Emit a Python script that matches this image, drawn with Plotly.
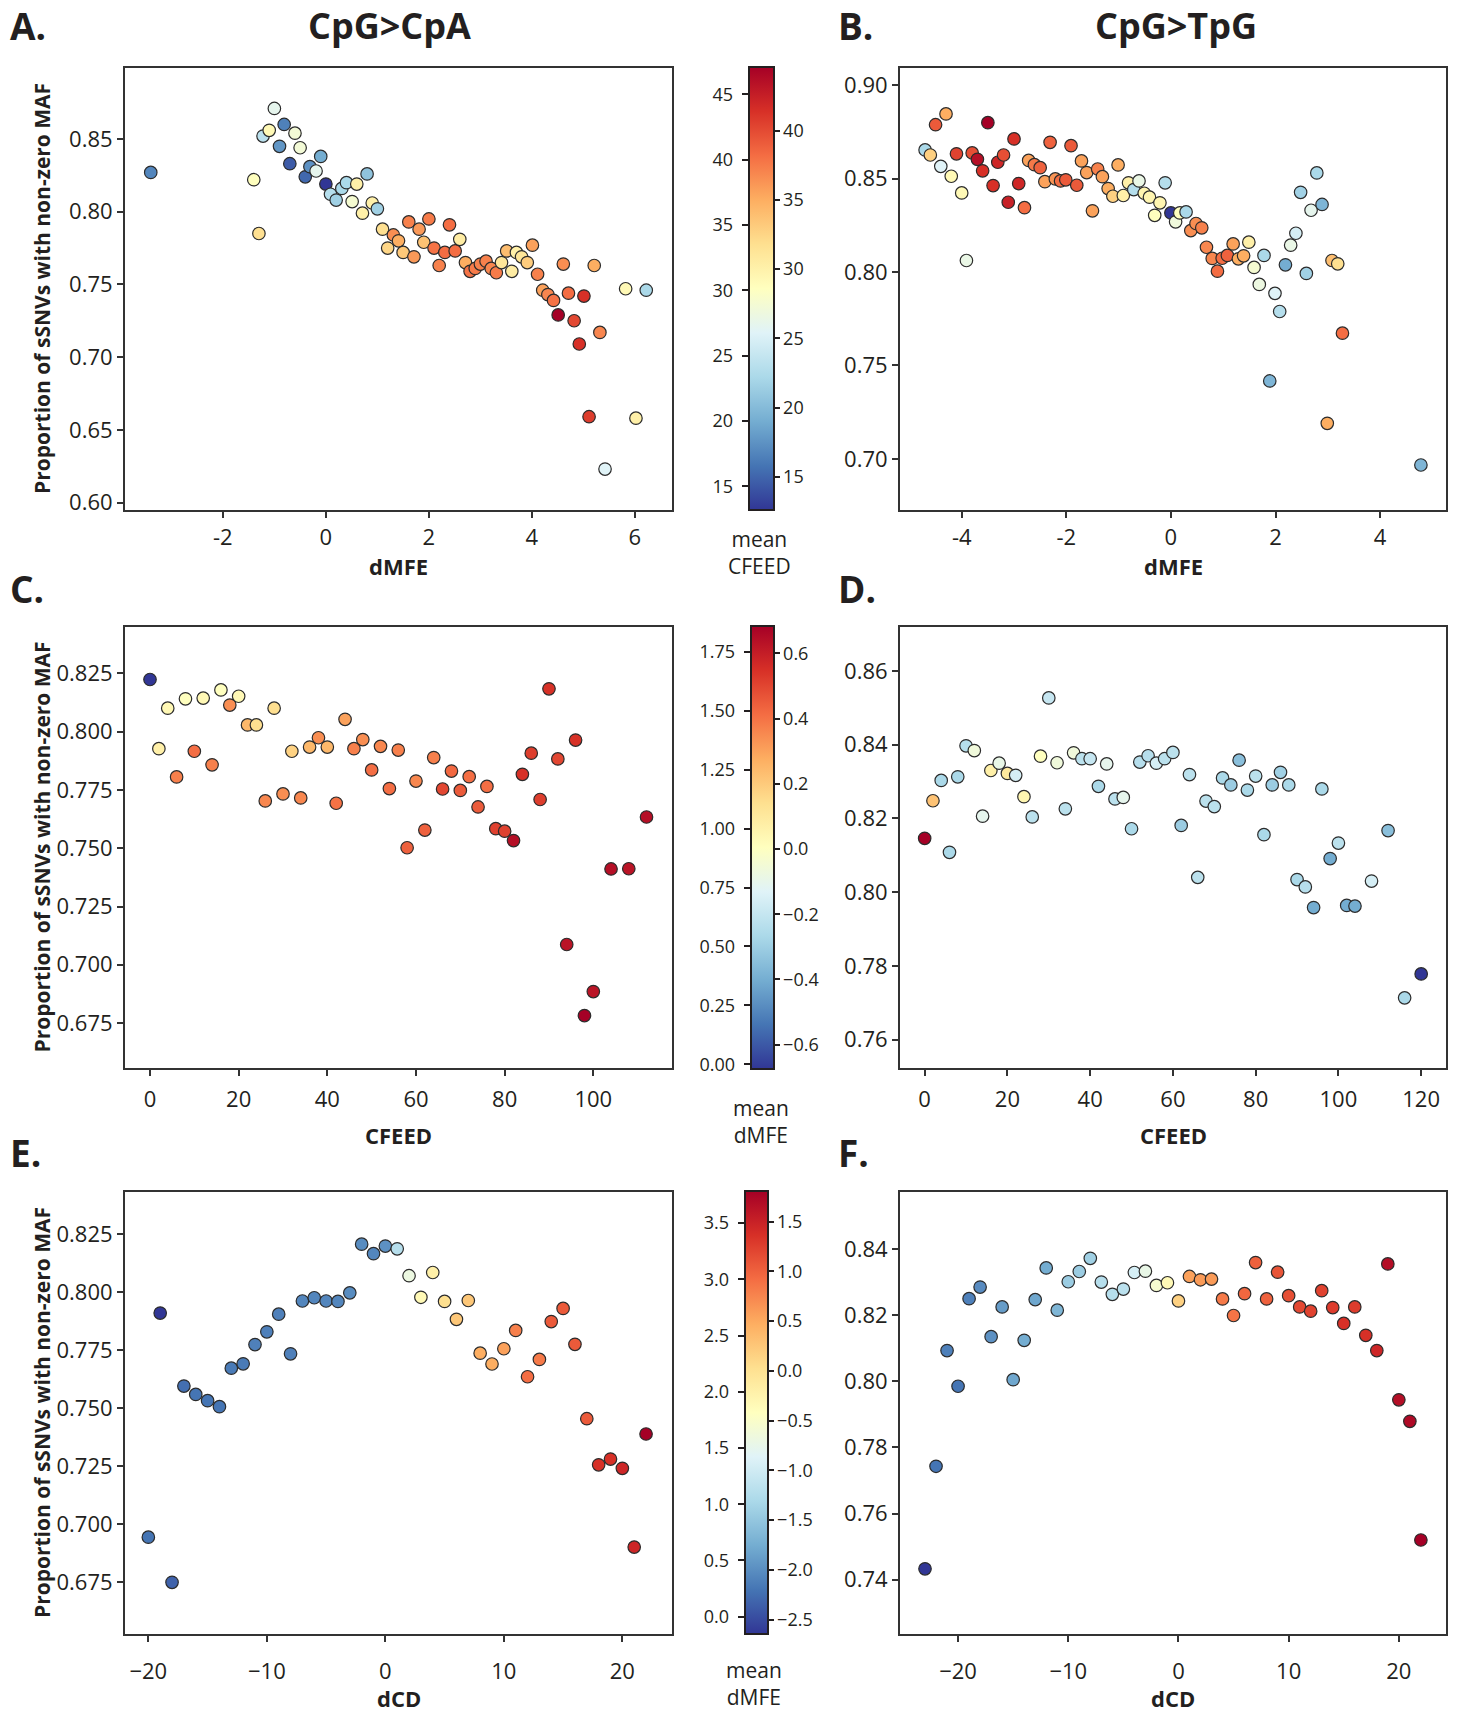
import plotly.graph_objects as go

# ---------------- data ----------------
# A. CpG>CpA : dMFE vs proportion, coloured by mean CFEED
A_dmfe = [-3.40, -1.40, -1.30, -1.22, -1.10, -1.00, -0.90, -0.81, -0.70, -0.60, -0.50, -0.40, -0.31, -0.19, -0.10,
	0.00, 0.09, 0.20, 0.31, 0.40, 0.51, 0.60, 0.71, 0.80, 0.90, 1.00, 1.10, 1.20, 1.31, 1.41, 1.50, 1.61, 1.71, 1.81,
	1.90, 2.00, 2.10, 2.20, 2.31, 2.40, 2.51, 2.60, 2.71, 2.80, 2.90, 3.00, 3.11, 3.21, 3.31, 3.41, 3.51, 3.61, 3.70,
	3.80, 3.91, 4.01, 4.11, 4.21, 4.31, 4.42, 4.51, 4.61, 4.71, 4.82, 4.92, 5.01, 5.11, 5.21, 5.32, 5.42, 5.82, 6.02, 6.22]
A_prop = [0.827, 0.822, 0.785, 0.852, 0.856, 0.871, 0.845, 0.860, 0.833, 0.854, 0.844, 0.824, 0.831, 0.828, 0.838,
	0.819, 0.812, 0.808, 0.816, 0.820, 0.807, 0.819, 0.799, 0.826, 0.806, 0.802, 0.788, 0.775, 0.784, 0.780, 0.772, 0.793, 0.769, 0.788,
	0.779, 0.795, 0.775, 0.763, 0.772, 0.791, 0.773, 0.781, 0.765, 0.759, 0.761, 0.764, 0.766, 0.761, 0.758, 0.765, 0.773, 0.759, 0.772,
	0.769, 0.765, 0.777, 0.757, 0.746, 0.743, 0.739, 0.729, 0.764, 0.744, 0.725, 0.709, 0.742, 0.659, 0.763, 0.717, 0.623, 0.747, 0.658, 0.746]
A_cfeed = [17.6, 30.2, 33.5, 24.4, 30.8, 27.4, 18.6, 17.3, 15.2, 28.8, 28.8, 15.9, 18.3, 27.4, 20.0,
	13.2, 24.0, 22.7, 23.4, 23.4, 29.1, 31.8, 31.8, 21.7, 31.8, 22.7, 33.5, 34.2, 38.6, 36.9, 35.2, 39.3, 38.0, 38.0,
	35.6, 39.6, 40.0, 39.3, 40.3, 40.3, 40.3, 32.2, 36.9, 40.0, 39.6, 39.3, 39.3, 39.0, 39.6, 32.9, 35.9, 32.2, 31.8,
	32.9, 34.9, 37.6, 39.3, 37.6, 39.0, 40.0, 47.1, 38.6, 40.3, 42.4, 43.7, 43.7, 43.0, 36.9, 39.0, 26.8, 30.8, 31.8, 23.4]

# B. CpG>TpG : dMFE vs proportion, coloured by mean CFEED
B_dmfe = [-4.70, -4.60, -4.50, -4.40, -4.30, -4.20, -4.10, -4.00, -3.91, -3.80, -3.70, -3.60, -3.50, -3.40, -3.31, -3.20,
	-3.11, -3.00, -2.91, -2.80, -2.72, -2.61, -2.50, -2.41, -2.31, -2.21, -2.11, -2.01, -1.91, -1.80, -1.71, -1.61, -1.50,
	-1.40, -1.31, -1.20, -1.11, -1.01, -0.91, -0.81, -0.71, -0.61, -0.51, -0.41, -0.31, -0.21, -0.11, 0.00, 0.09, 0.17,
	0.29, 0.38, 0.48, 0.59, 0.68, 0.79, 0.89, 0.98, 1.08, 1.19, 1.29, 1.39, 1.49, 1.59, 1.69, 1.78, 1.89, 1.99, 2.08,
	2.19, 2.29, 2.39, 2.48, 2.59, 2.68, 2.79, 2.89, 2.99, 3.08, 3.19, 3.28, 4.78]
B_prop = [0.8654, 0.8627, 0.8789, 0.8566, 0.8847, 0.8513, 0.8633, 0.8424, 0.8062, 0.8638, 0.8604, 0.8542, 0.8800, 0.8463, 0.8588, 0.8627,
	0.8374, 0.8713, 0.8474, 0.8345, 0.8598, 0.8575, 0.8559, 0.8484, 0.8695, 0.8499, 0.8488, 0.8494, 0.8677, 0.8465, 0.8595, 0.8533, 0.8328,
	0.8552, 0.8511, 0.8447, 0.8406, 0.8574, 0.8410, 0.8478, 0.8442, 0.8488, 0.8422, 0.8401, 0.8304, 0.8371, 0.8478, 0.8317, 0.8269, 0.8317,
	0.8322, 0.8222, 0.8260, 0.8237, 0.8133, 0.8073, 0.8005, 0.8074, 0.8089, 0.8151, 0.8071, 0.8087, 0.8160, 0.8025, 0.7934, 0.8089, 0.7417, 0.7886, 0.7789,
	0.8039, 0.8144, 0.8208, 0.8427, 0.7993, 0.8331, 0.8531, 0.8362, 0.7190, 0.8062, 0.8044, 0.7673, 0.6967]
B_cfeed = [22.2, 32.8, 39.2, 25.4, 35.0, 29.2, 40.4, 29.2, 26.4, 39.8, 43.6, 41.4, 44.6, 41.4, 42.0, 39.8,
	42.4, 41.4, 42.0, 38.2, 35.6, 37.6, 38.8, 35.6, 38.8, 36.3, 38.2, 39.2, 39.2, 39.2, 35.6, 35.6, 35.6,
	37.2, 35.6, 35.0, 32.8, 35.0, 30.2, 30.2, 22.8, 26.4, 29.6, 29.6, 28.6, 29.6, 22.8, 12.6, 27.0, 28.6,
	22.2, 36.6, 36.6, 37.2, 36.9, 36.9, 38.2, 38.2, 38.8, 35.6, 35.0, 35.0, 30.2, 27.6, 26.7, 22.2, 19.6, 25.4, 22.8,
	19.0, 26.4, 24.8, 21.6, 21.6, 26.0, 22.2, 19.6, 35.0, 34.0, 31.8, 38.2, 19.6]

# C. CpG>CpA : CFEED vs proportion, coloured by mean dMFE
C_cfeed = [0, 2, 4, 6, 8, 10, 12, 14, 16, 18, 20, 22, 24, 26, 28, 30, 32, 34, 36, 38, 40, 42, 44, 46, 48, 50,
	52, 54, 56, 58, 60, 62, 64, 66, 68, 70, 72, 74, 76, 78, 80, 82, 84, 86, 88, 90, 92, 94, 96, 98, 100, 104, 108, 112]
C_prop = [0.8224, 0.7927, 0.8101, 0.7806, 0.8141, 0.7916, 0.8144, 0.7858, 0.8179, 0.8114, 0.8152, 0.8029, 0.8029, 0.7703,
	0.8101, 0.7733, 0.7916, 0.7716, 0.7934, 0.7974, 0.7934, 0.7693, 0.8053, 0.7927, 0.7966, 0.7836, 0.7937, 0.7756,
	0.7921, 0.7502, 0.7788, 0.7578, 0.7889, 0.7754, 0.7831, 0.7748, 0.7807, 0.7677, 0.7765, 0.7584, 0.7573, 0.7533,
	0.7817, 0.7908, 0.7709, 0.8184, 0.7883, 0.7087, 0.7964, 0.6782, 0.6885, 0.7411, 0.7412, 0.7634]
C_dmfe = [-0.02, 1.01, 0.96, 1.43, 0.92, 1.48, 0.96, 1.43, 0.92, 1.39, 0.96, 1.26, 1.11, 1.41, 1.11, 1.39, 1.16, 1.41,
	1.26, 1.39, 1.26, 1.47, 1.33, 1.43, 1.39, 1.48, 1.41, 1.48, 1.43, 1.52, 1.41, 1.52, 1.43, 1.60, 1.50, 1.54, 1.48,
	1.54, 1.48, 1.62, 1.62, 1.80, 1.67, 1.63, 1.63, 1.67, 1.60, 1.78, 1.67, 1.86, 1.78, 1.80, 1.78, 1.80]

# D. CpG>TpG : CFEED vs proportion, coloured by mean dMFE
D_cfeed = [0, 2, 4, 6, 8, 10, 12, 14, 16, 18, 20, 22, 24, 26, 28, 30, 32, 34, 36, 38, 40, 42, 44, 46, 48, 50, 52, 54,
	56, 58, 60, 62, 64, 66, 68, 70, 72, 74, 76, 78, 80, 82, 84, 86, 88, 90, 92, 94, 96, 98, 100, 102, 104, 108, 112, 116, 120]
D_prop = [0.8146, 0.8248, 0.8303, 0.8108, 0.8313, 0.8397, 0.8384, 0.8206, 0.8330, 0.8350, 0.8322, 0.8317, 0.8259, 0.8204,
	0.8369, 0.8527, 0.8351, 0.8226, 0.8378, 0.8362, 0.8362, 0.8287, 0.8348, 0.8253, 0.8257, 0.8172, 0.8353, 0.8370,
	0.8350, 0.8362, 0.8379, 0.8181, 0.8319, 0.8040, 0.8247, 0.8232, 0.8310, 0.8291, 0.8358, 0.8277, 0.8315, 0.8156,
	0.8291, 0.8325, 0.8291, 0.8034, 0.8014, 0.7958, 0.8280, 0.8091, 0.8133, 0.7964, 0.7962, 0.8030, 0.8167, 0.7713, 0.7778]
D_dmfe = [0.684, 0.222, -0.267, -0.267, -0.267, -0.240, -0.063, -0.104, 0.072, -0.091, 0.100, -0.159, 0.045, -0.227,
	0.005, -0.199, -0.063, -0.227, -0.063, -0.227, -0.199, -0.267, -0.104, -0.227, -0.104, -0.267, -0.240, -0.240,
	-0.159, -0.227, -0.227, -0.308, -0.227, -0.227, -0.227, -0.227, -0.267, -0.308, -0.349, -0.267, -0.227, -0.267,
	-0.308, -0.294, -0.267, -0.267, -0.240, -0.403, -0.267, -0.403, -0.227, -0.403, -0.403, -0.159, -0.349, -0.267, -0.675]

# E. CpG>CpA : dCD vs proportion, coloured by mean dMFE
E_dcd = [-20, -19, -18, -17, -16, -15, -14, -13, -12, -11, -10, -9, -8, -7, -6, -5, -4, -3, -2, -1, 0,
	1, 2, 3, 4, 5, 6, 7, 8, 9, 10, 11, 12, 13, 14, 15, 16, 17, 18, 19, 20, 21, 22]
E_prop = [0.6943, 0.7910, 0.6748, 0.7595, 0.7559, 0.7532, 0.7506, 0.7672, 0.7691, 0.7774, 0.7829, 0.7905, 0.7734, 0.7962,
	0.7976, 0.7962, 0.7960, 0.7997, 0.8207, 0.8166, 0.8199, 0.8187, 0.8071, 0.7978, 0.8085, 0.7960, 0.7883, 0.7964,
	0.7737, 0.7690, 0.7756, 0.7835, 0.7635, 0.7710, 0.7873, 0.7930, 0.7775, 0.7454, 0.7255, 0.7280, 0.7240, 0.6900, 0.7388]
E_dmfe = [0.24, -0.154, 0.12, 0.20, 0.24, 0.24, 0.24, 0.28, 0.28, 0.32, 0.32, 0.32, 0.32, 0.36, 0.36, 0.36, 0.36, 0.40,
	0.40, 0.36, 0.44, 1.11, 1.58, 1.89, 2.01, 2.21, 2.41, 2.41, 2.60, 2.60, 2.68, 2.88, 3.00, 2.92, 3.12, 3.12, 3.12,
	3.12, 3.39, 3.39, 3.47, 3.47, 3.785]

# F. CpG>TpG : dCD vs proportion, coloured by mean dMFE
F_dcd = [-23, -22, -21, -20, -19, -18, -17, -16, -15, -14, -13, -12, -11, -10, -9, -8, -7, -6, -5, -4, -3, -2, -1, 0,
	1, 2, 3, 4, 5, 6, 7, 8, 9, 10, 11, 12, 13, 14, 15, 16, 17, 18, 19, 20, 21, 22]
F_prop = [0.7433, 0.7743, 0.8093, 0.7985, 0.8250, 0.8285, 0.8135, 0.8225, 0.8005, 0.8124, 0.8247, 0.8343, 0.8215, 0.8301,
	0.8332, 0.8372, 0.8300, 0.8263, 0.8279, 0.8329, 0.8333, 0.8290, 0.8298, 0.8243, 0.8317, 0.8307, 0.8309, 0.8249,
	0.8199, 0.8265, 0.8359, 0.8249, 0.8330, 0.8259, 0.8225, 0.8212, 0.8274, 0.8223, 0.8175, 0.8225, 0.8139, 0.8093,
	0.8355, 0.7944, 0.7879, 0.7520]
F_dmfe = [-2.644, -2.199, -2.110, -2.199, -2.110, -2.021, -1.976, -1.887, -1.798, -1.754, -1.798, -1.754, -1.665, -1.442,
	-1.442, -1.398, -1.220, -1.220, -1.175, -0.953, -0.730, -0.552, -0.329, 0.160, 0.561, 0.605, 0.605, 0.828, 0.872,
	0.961, 1.006, 1.006, 1.095, 1.139, 1.184, 1.228, 1.228, 1.273, 1.362, 1.273, 1.362, 1.451, 1.674, 1.674, 1.718, 1.807]

# tick labels of the top row keep the plain hyphen of the original
A_xticks = [-2, 0, 2, 4, 6]
A_xticklabels = ['-2', '0', '2', '4', '6']
B_xticks = [-4, -2, 0, 2, 4]
B_xticklabels = ['-4', '-2', '0', '2', '4']

panel_letters = ['A.', 'B.', 'C.', 'D.', 'E.', 'F.']
column_titles = ['CpG>CpA', 'CpG>TpG']
x_titles = ['dMFE', 'dMFE', 'CFEED', 'CFEED', 'dCD', 'dCD']
colorbar_titles = ['mean<br>CFEED', 'mean<br>dMFE', 'mean<br>dMFE']
y_title = 'Proportion of sSNVs with non-zero MAF'

# ---------------- layout helpers (page pixels, the page body margin is removed below) ----------------
W, H = 1460, 1717
FONT = 'Open Sans'
INK = '#231f20'
def fx(v): return v/W
def fy(v): return 1 - v/H

col_px = [(125, 672), (900, 1446)]
row_px = [(68, 512), (629, 1072), (1196, 1640)]
cbar_px = [(749, 774, 68, 511), (751, 774, 629, 1072), (745, 768, 1196, 1639)]
letter_y = [26, 591, 1157]
xtitle_y = [568, 1139, 1704]
cbtitle_y = [554, 1125, 1689]
xtick_standoff = [0, 4, 10]

panels = [
	dict(x=A_dmfe, y=A_prop, c=A_cfeed, xr=[-3.90, 6.72], yr=[0.5947, 0.899], xt=(A_xticks, A_xticklabels), dy=0.05, yf='.2f', cd=5, c0=15, cf='d'),
	dict(x=B_dmfe, y=B_prop, c=B_cfeed, xr=[-5.18, 5.26], yr=[0.6725, 0.9094], xt=(B_xticks, B_xticklabels), dy=0.05, yf='.2f', cd=5, c0=15, cf='d'),
	dict(x=C_cfeed, y=C_prop, c=C_dmfe, xr=[-5.64, 117.75], yr=[0.6556, 0.845], dx=20, dy=0.025, yf='.3f', cd=0.25, c0=0, cf='.2f'),
	dict(x=D_cfeed, y=D_prop, c=D_dmfe, xr=[-5.96, 126.0], yr=[0.7522, 0.872], dx=20, dy=0.02, yf='.2f', cd=0.2, c0=0, cf='.1f'),
	dict(x=E_dcd, y=E_prop, c=E_dmfe, xr=[-21.97, 24.19], yr=[0.6524, 0.8433], dx=10, dy=0.025, yf='.3f', cd=0.5, c0=0, cf='.1f'),
	dict(x=F_dcd, y=F_prop, c=F_dmfe, xr=[-25.27, 24.28], yr=[0.7235, 0.8573], dx=10, dy=0.02, yf='.2f', cd=0.5, c0=0, cf='.1f'),
]

fig = go.Figure()
annotations = []
def note(text, x, y, size, bold=False, **kw):
	annotations.append(dict(text=f'<b>{text}</b>' if bold else text, x=fx(x), y=fy(y), xref='paper', yref='paper',
		showarrow=False, font=dict(family=FONT, size=size, color=INK), **kw))

for i, p in enumerate(panels):
	row, col = divmod(i, 2)
	n = i + 1
	xa = 'xaxis' if n == 1 else f'xaxis{n}'
	ya = 'yaxis' if n == 1 else f'yaxis{n}'
	x0, x1 = col_px[col]
	y0, y1 = row_px[row]
	bl, br, bt, bb = cbar_px[row]
	tickfont = dict(family=FONT, size=18, color=INK)
	if col == 1:
		# right-hand tick labels of the shared colour bar
		cbar = dict(x=fx(bl), xanchor='left', xpad=0, ypad=0, thickness=br - bl, len=bb - bt, lenmode='pixels',
			y=fy((bt + bb)/2), yanchor='middle', outlinewidth=2, outlinecolor=INK,
			ticks='outside', ticklen=5, tickwidth=1.5, tickcolor=INK,
			tickmode='linear', tick0=p['c0'], dtick=p['cd'], tickformat=p['cf'], tickfont=tickfont)
	else:
		# left-hand tick labels: a hair-thin bar glued to the left edge of the same bar
		cbar = dict(x=fx(bl - 1), xanchor='left', xpad=0, ypad=0, thickness=1, len=bb - bt, lenmode='pixels',
			y=fy((bt + bb)/2), yanchor='middle', outlinewidth=0,
			ticks='inside', ticklabelposition='inside', ticklabeloverflow='allow', ticklen=7, tickwidth=1.5, tickcolor=INK,
			tickmode='linear', tick0=p['c0'], dtick=p['cd'], tickformat=p['cf'], ticksuffix='\u2002', tickfont=tickfont)
	fig.add_trace(go.Scatter(
		x=p['x'], y=p['y'], mode='markers',
		xaxis=xa.replace('axis', ''), yaxis=ya.replace('axis', ''),
		marker=dict(size=12.5, color=p['c'], colorscale='RdYlBu', reversescale=True,
			line=dict(color='#2b2b2b', width=1.2), colorbar=cbar, showscale=True),
		showlegend=False,
	))
	axis_common = dict(showline=True, mirror=True, linecolor='#333333', linewidth=2, showgrid=False, zeroline=False,
		ticks='outside', ticklen=6, tickwidth=1.5, tickcolor='#333333',
		tickfont=dict(family=FONT, size=22, color=INK))
	xaxis = dict(axis_common, domain=[fx(x0), fx(x1)], range=p['xr'], anchor=ya.replace('axis', ''),
		ticklabelstandoff=xtick_standoff[row])
	if 'xt' in p:
		xaxis.update(tickmode='array', tickvals=p['xt'][0], ticktext=p['xt'][1])
	else:
		xaxis.update(dtick=p['dx'], tick0=0)
	fig.update_layout({
		xa: xaxis,
		ya: dict(axis_common, domain=[fy(y1), fy(y0)], range=p['yr'], dtick=p['dy'], tick0=0, tickformat=p['yf'],
			anchor=xa.replace('axis', '')),
	})
	note(panel_letters[i], 8 if col == 0 else 836, letter_y[row], 37, bold=True, xanchor='left', yanchor='middle')
	note(x_titles[i], (x0 + x1)/2, xtitle_y[row], 22, bold=True, xanchor='center', yanchor='middle')
	if col == 0:
		note(y_title, 42, (y0 + y1)/2, 21, bold=True, textangle=-90, xanchor='center', yanchor='middle')

for col, t in enumerate(column_titles):
	note(t, [389, 1176][col], 26, 36, bold=True, xanchor='center', yanchor='middle')

for row, t in enumerate(colorbar_titles):
	bl, br, bt, bb = cbar_px[row]
	note(t, (bl + br)/2 - 2, cbtitle_y[row], 21, xanchor='center', yanchor='middle', align='center')

fig.update_layout(
	width=W, height=H,
	margin=dict(l=0, r=0, t=0, b=0),
	paper_bgcolor='white', plot_bgcolor='white',
	font=dict(family=FONT, color=INK),
	annotations=annotations,
)

fig.write_html('out.html', config={'displayModeBar': False},
	post_script="document.body.style.margin = '0px';")
